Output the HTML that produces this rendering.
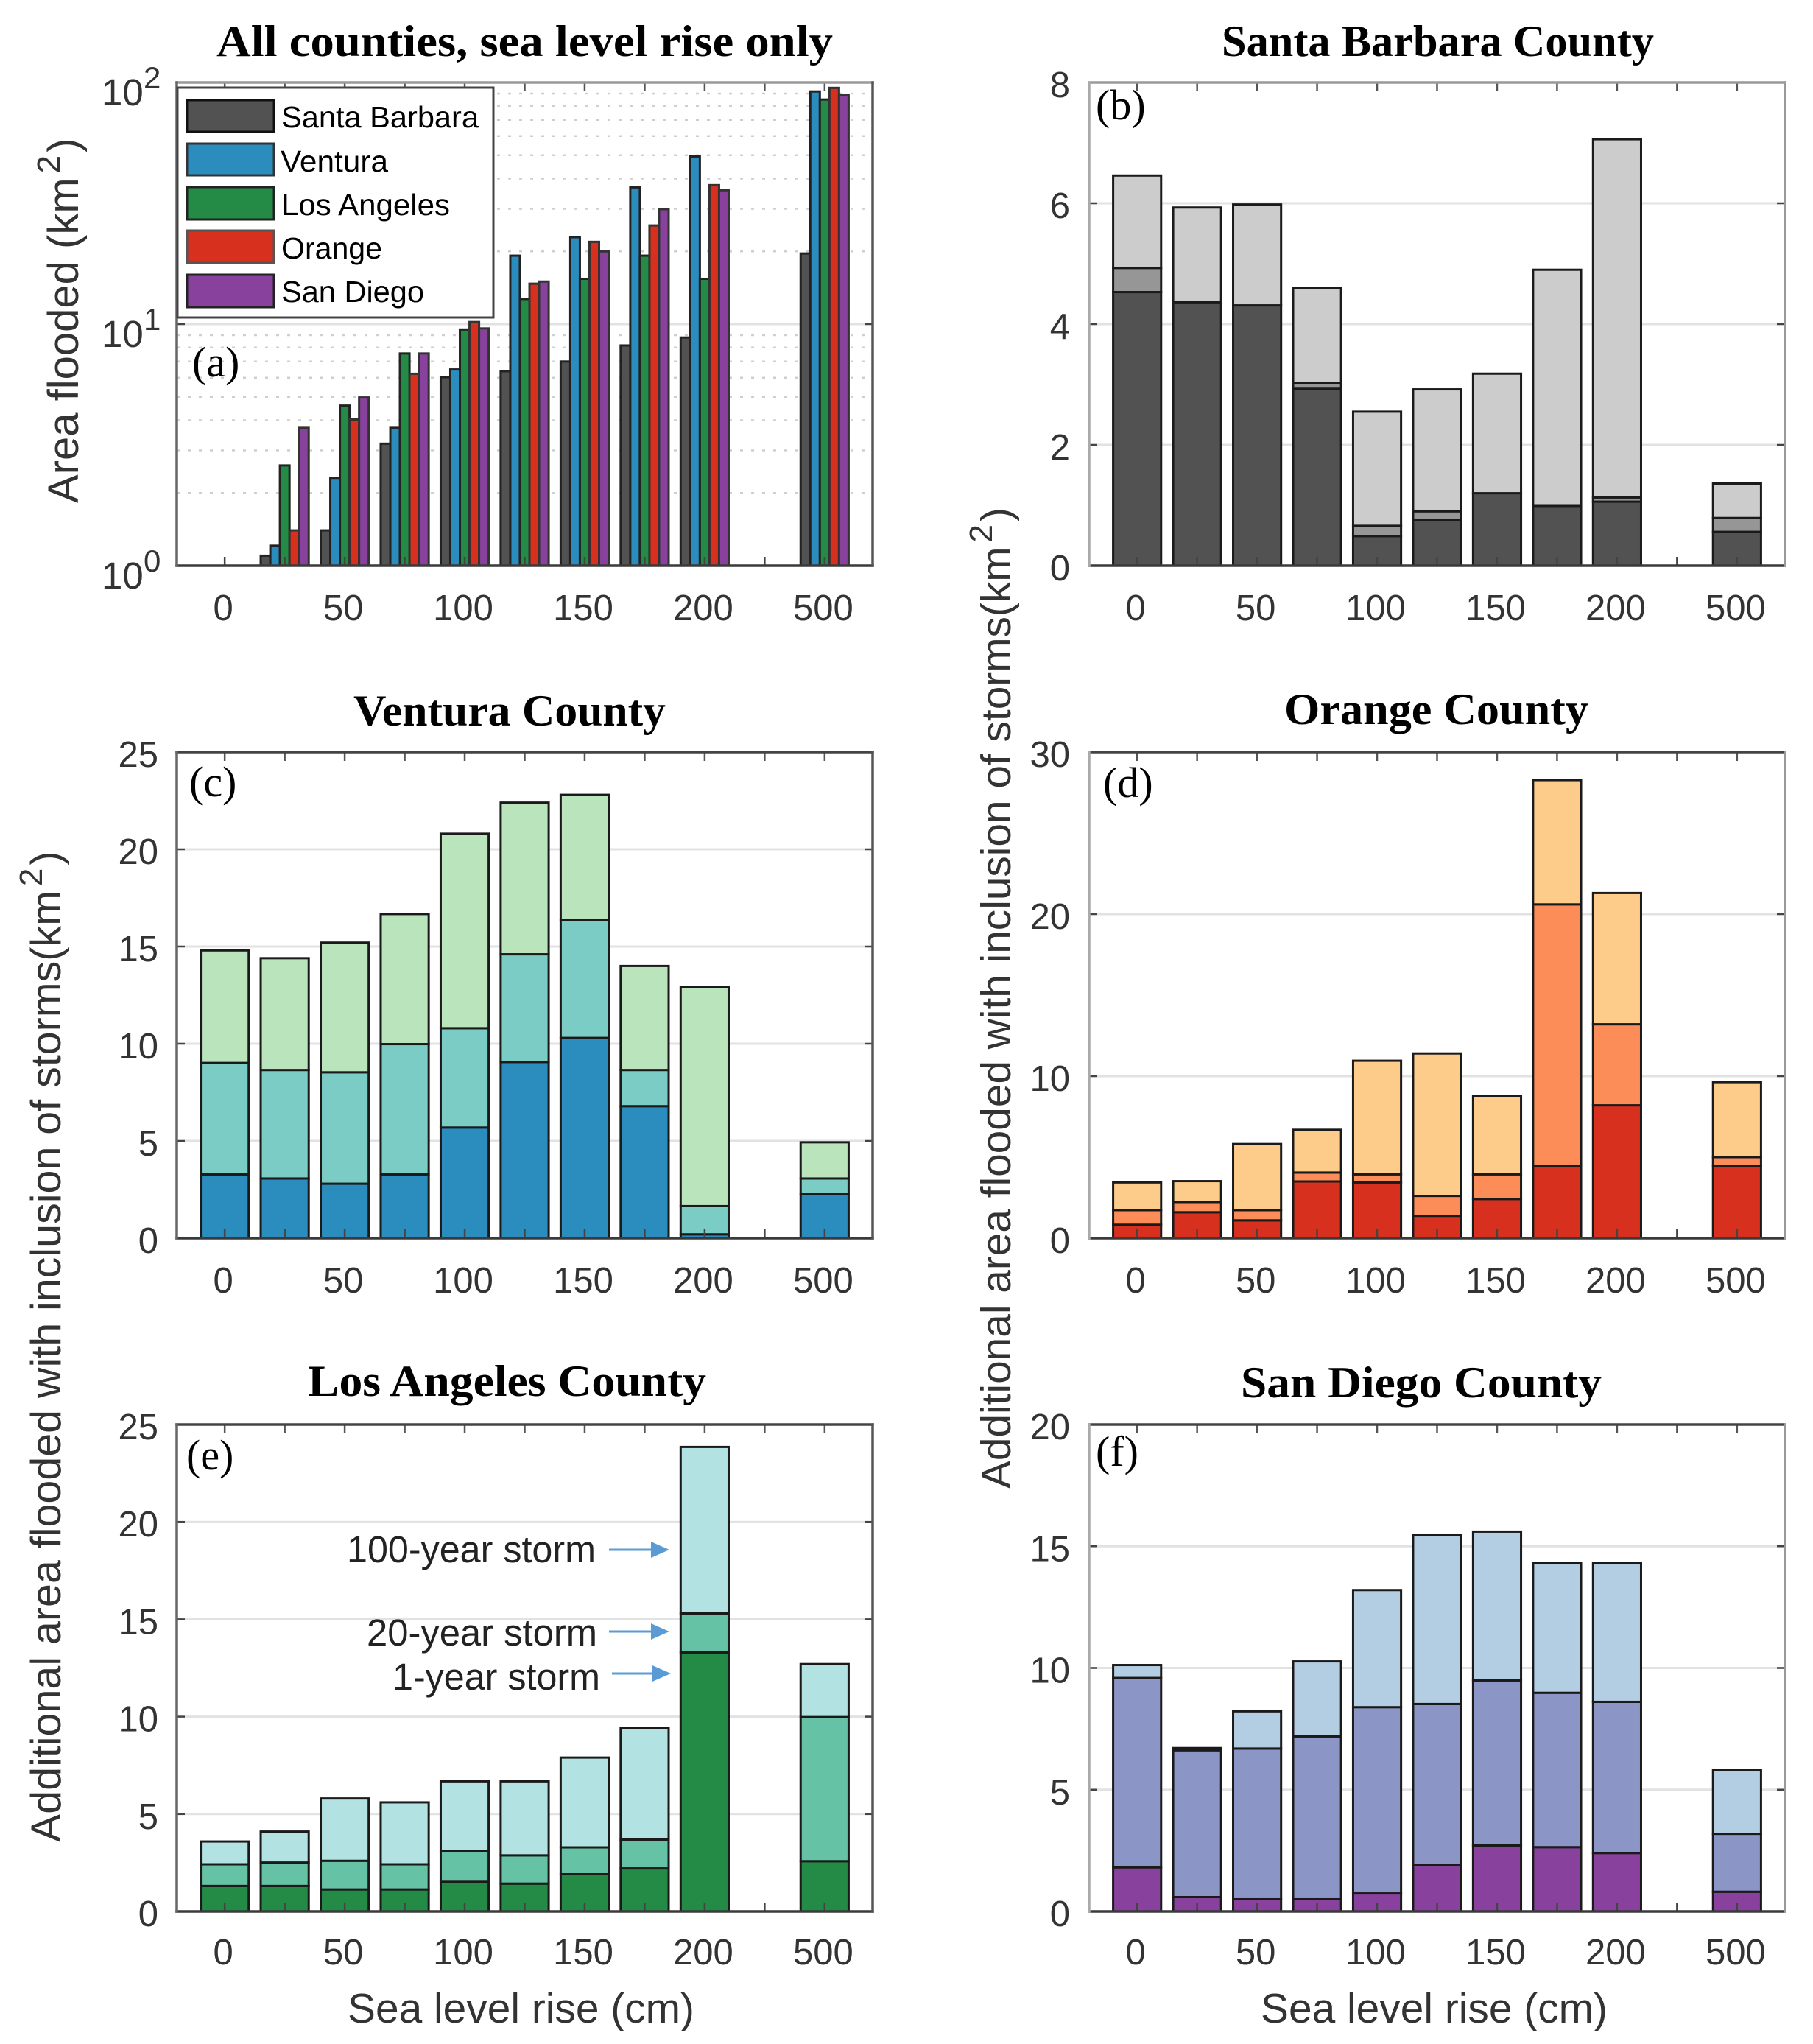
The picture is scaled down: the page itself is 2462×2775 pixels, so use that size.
<!DOCTYPE html>
<html lang="en">
<head>
<meta charset="utf-8">
<title>Area flooded by county and sea level rise</title>
<style>
html,body{margin:0;padding:0;background:#fff;}
svg{display:block;}
.sans{font-family:"Liberation Sans",sans-serif;}
.serif{font-family:"Liberation Serif",serif;}
</style>
</head>
<body>
<svg id="figure" xmlns="http://www.w3.org/2000/svg" width="2462" height="2775" viewBox="0 0 2462 2775">
  <rect x="0" y="0" width="2462" height="2775" fill="#ffffff"/>
  <g id="panels"></g>

  <g class="serif" font-weight="bold" font-size="60" fill="#000">
    <text x="294" y="76" textLength="837" lengthAdjust="spacingAndGlyphs">All counties, sea level rise only</text>
    <text x="1659" y="76" textLength="587" lengthAdjust="spacingAndGlyphs">Santa Barbara County</text>
    <text x="480" y="985" textLength="424" lengthAdjust="spacingAndGlyphs">Ventura County</text>
    <text x="1744" y="983" textLength="413" lengthAdjust="spacingAndGlyphs">Orange County</text>
    <text x="418" y="1895" textLength="541" lengthAdjust="spacingAndGlyphs">Los Angeles County</text>
    <text x="1685" y="1897" textLength="490" lengthAdjust="spacingAndGlyphs">San Diego County</text>
  </g>

  <g class="serif" font-size="58" fill="#000">
    <text x="261" y="511">(a)</text>
    <text x="1488" y="162">(b)</text>
    <text x="257" y="1081">(c)</text>
    <text x="1498" y="1082">(d)</text>
    <text x="253" y="1995">(e)</text>
    <text x="1488" y="1990">(f)</text>
  </g>

  <g class="sans" fill="#333">
    <text font-size="58" transform="translate(106,683) rotate(-90)">Area flooded (km<tspan font-size="44" dy="-25" dx="6">2</tspan><tspan dy="25" dx="4">)</tspan></text>
    <text font-size="57.4" transform="translate(82,2501) rotate(-90)">Additional area flooded with inclusion of storms(km<tspan font-size="44" dy="-25" dx="6">2</tspan><tspan dy="25" dx="4">)</tspan></text>
    <text font-size="56.8" transform="translate(1372,2021) rotate(-90)">Additional area flooded with inclusion of storms(km<tspan font-size="44" dy="-25" dx="6">2</tspan><tspan dy="25" dx="4">)</tspan></text>
    <text font-size="57" x="472" y="2746" textLength="471" lengthAdjust="spacingAndGlyphs">Sea level rise (cm)</text>
    <text font-size="57" x="1712" y="2746" textLength="471" lengthAdjust="spacingAndGlyphs">Sea level rise (cm)</text>
  </g>

  <g class="sans" font-size="51" fill="#222">
    <text x="471" y="2121" textLength="338" lengthAdjust="spacingAndGlyphs">100-year storm</text>
    <text x="498" y="2234" textLength="313" lengthAdjust="spacingAndGlyphs">20-year storm</text>
    <text x="533" y="2294" textLength="282" lengthAdjust="spacingAndGlyphs">1-year storm</text>
    <g>
      <line x1="827" y1="2104" x2="886" y2="2104" stroke="#5b9bd5" stroke-width="3"/>
      <polygon points="884,2093 909,2104 884,2115" fill="#5b9bd5"/>
    </g>
    <g>
      <line x1="827" y1="2215" x2="886" y2="2215" stroke="#5b9bd5" stroke-width="3"/>
      <polygon points="884,2204 909,2215 884,2226" fill="#5b9bd5"/>
    </g>
    <g>
      <line x1="831" y1="2272" x2="888" y2="2272" stroke="#5b9bd5" stroke-width="3"/>
      <polygon points="886,2261 911,2272 886,2283" fill="#5b9bd5"/>
    </g>
  </g>

  <g>
    <rect x="241" y="119" width="429" height="312" fill="#fff" stroke="#444" stroke-width="3"/>
    <g>
      <rect x="254" y="136" width="118" height="43" fill="#525252" stroke="#111" stroke-width="3"/>
      <text class="sans" font-size="41" x="382" y="173" textLength="268" lengthAdjust="spacingAndGlyphs">Santa Barbara</text>
    </g>
    <g>
      <rect x="254" y="195" width="118" height="43" fill="#2b8cbe" stroke="#333" stroke-width="3"/>
      <text class="sans" font-size="41" x="381" y="233" textLength="146" lengthAdjust="spacingAndGlyphs">Ventura</text>
    </g>
    <g>
      <rect x="254" y="254" width="118" height="44" fill="#238b45" stroke="#222" stroke-width="3"/>
      <text class="sans" font-size="41" x="382" y="292" textLength="229" lengthAdjust="spacingAndGlyphs">Los Angeles</text>
    </g>
    <g>
      <rect x="254" y="313" width="118" height="44" fill="#d7301f" stroke="#555" stroke-width="3"/>
      <text class="sans" font-size="41" x="382" y="351" textLength="137" lengthAdjust="spacingAndGlyphs">Orange</text>
    </g>
    <g>
      <rect x="254" y="373" width="118" height="44" fill="#88419d" stroke="#222" stroke-width="3"/>
      <text class="sans" font-size="41" x="382" y="410" textLength="194" lengthAdjust="spacingAndGlyphs">San Diego</text>
    </g>
  </g>
</svg>

<script>
// ---- shared categories (sea level rise, cm) ----
const categories = ["0","25","50","75","100","125","150","175","200","500"];
const categorySlots = [1,2,3,4,5,6,7,8,9,11];
const xTickLabels = ["0","","50","","100","","150","","200","","500"];

// ---- panel (a): sea-level-rise only, km2 ----
const allSantaBarbara = [0.5,1.10,1.40,3.2,6.03,6.38,7.0,8.16,8.8,19.6];
const allVentura      = [0.6,1.21,2.31,3.72,6.49,19.2,22.9,36.8,49.4,91.8];
const allLosAngeles   = [0.9,2.6,4.6,7.56,9.5,12.7,15.4,19.2,15.4,85];
const allOrange       = [0.7,1.40,4.03,6.23,10.2,14.7,21.9,25.6,37.6,95];
const allSanDiego     = [0.8,3.72,4.97,7.56,9.6,15,20.0,29.9,35.8,88.5];
const logTickExponents = [0,1,2];
const logMinorMultipliers = [2,3,4,5,6,7,8,9];

// ---- panel (b): Santa Barbara, additional area by storm ----
const sbStorm1   = [4.53,4.35,4.31,2.93,0.49,0.76,1.2,0.99,1.06,0.56];
const sbStorm20  = [0.40,0.02,0,0.09,0.17,0.14,0,0.01,0.07,0.23];
const sbStorm100 = [1.53,1.56,1.67,1.58,1.89,2.02,1.98,3.9,5.93,0.57];
const sbTicks = [0,2,4,6,8];

// ---- panel (c): Ventura ----
const vcStorm1   = [3.28,3.07,2.8,3.28,5.69,9.06,10.3,6.79,0.2,2.29];
const vcStorm20  = [5.73,5.58,5.73,6.7,5.11,5.54,6.05,1.86,1.45,0.78];
const vcStorm100 = [5.79,5.75,6.67,6.69,10.0,7.8,6.45,5.35,11.25,1.86];
const vcTicks = [0,5,10,15,20,25];

// ---- panel (d): Orange ----
const orStorm1   = [0.83,1.6,1.1,3.5,3.44,1.38,2.42,4.46,8.2,4.46];
const orStorm20  = [0.9,0.63,0.63,0.55,0.5,1.23,1.52,16.14,5.0,0.54];
const orStorm100 = [1.71,1.29,4.08,2.64,7.01,8.79,4.84,7.67,8.1,4.63];
const orTicks = [0,10,20,30];

// ---- panel (e): Los Angeles ----
const laStorm1   = [1.31,1.31,1.13,1.13,1.52,1.43,1.91,2.21,13.3,2.58];
const laStorm20  = [1.11,1.2,1.47,1.29,1.57,1.45,1.38,1.48,2.0,7.4];
const laStorm100 = [1.17,1.59,3.2,3.18,3.59,3.8,4.61,5.71,8.55,2.72];
const laTicks = [0,5,10,15,20,25];

// ---- panel (f): San Diego ----
const sdStorm1   = [1.81,0.59,0.5,0.5,0.74,1.9,2.71,2.64,2.4,0.81];
const sdStorm20  = [7.78,6.03,6.19,6.69,7.65,6.62,6.78,6.34,6.21,2.38];
const sdStorm100 = [0.53,0.09,1.53,3.08,4.81,6.95,6.11,5.34,5.71,2.62];
const sdTicks = [0,5,10,15,20];

const NS = "http://www.w3.org/2000/svg";
const root = document.getElementById("panels");

function make(parent, tag, attrs, txt) {
  const el = document.createElementNS(NS, tag);
  for (const k in attrs) el.setAttribute(k, attrs[k]);
  if (txt !== undefined) el.textContent = txt;
  parent.appendChild(el);
  return el;
}

const SLOT_MIN = 0.2, SLOT_MAX = 11.8;

function makeXScale(box) {
  return function (slot) {
    return box.left + (slot - SLOT_MIN) / (SLOT_MAX - SLOT_MIN) * (box.right - box.left);
  };
}

function frame(g, box, style, x) {
  // inward x ticks, top and bottom
  for (let s = 1; s <= 11; s++) {
    const px = x(s);
    const tb = make(g, "line", {x1: px, x2: px, y1: box.bottom, y2: box.bottom - 12, stroke: "#444", "stroke-width": 2.5});
    
    
    const tt = make(g, "line", {x1: px, x2: px, y1: box.top, y2: box.top + 12, stroke: "#555", "stroke-width": 2.5});
    
    
    const label = xTickLabels[s - 1];
    if (label !== "") {
      const t = make(g, "text", {x: px - 2, y: box.bottom + box.xLabelGap, "text-anchor": "middle", "font-size": 49, fill: "#333", class: "sans"}, label);
      
      
    }
  }
  const sides = [
    [box.left, box.top, box.right, box.top, style.topColor, "spine-top"],
    [box.left, box.bottom, box.right, box.bottom, "#3a3a3a", "spine-bottom"],
    [box.left, box.top, box.left, box.bottom, style.leftColor, "spine-left"],
    [box.right, box.top, box.right, box.bottom, style.rightColor, "spine-right"]
  ];
  sides.forEach(function (d) {
    const sp = make(g, "line", {x1: d[0], y1: d[1], x2: d[2], y2: d[3], stroke: d[4], "stroke-width": 3.5, "stroke-linecap": "square"});
    
    
  });
}

function stackedPanel(name, box, ticks, layers, colors, edge, style) {
  const g = make(root, "g", {});
  
  
  const x = makeXScale(box);
  const yMax = ticks[ticks.length - 1];
  const y = function (v) { return box.bottom - v / yMax * (box.bottom - box.top); };
  const unit = (box.right - box.left) / (SLOT_MAX - SLOT_MIN);

  ticks.forEach(function (t) {
    if (t !== 0 && t !== yMax) {
      const gl = make(g, "line", {x1: box.left, x2: box.right, y1: y(t), y2: y(t), stroke: "#e2e2e2", "stroke-width": 3});
      
      
    }
  });

  categories.forEach(function (cat, i) {
    let base = 0;
    const barW = unit * 0.8;
    const left = x(categorySlots[i]) - barW / 2;
    layers.forEach(function (series, j) {
      const top = base + series[i];
      const r = make(g, "rect", {x: left, y: y(top), width: barW, height: Math.max(0, y(base) - y(top)), fill: colors[j], stroke: edge, "stroke-width": 3});
      
      
      base = top;
    });
  });

  ticks.forEach(function (t) {
    if (t !== 0 && t !== yMax) {
      const a = make(g, "line", {x1: box.left, x2: box.left + 11, y1: y(t), y2: y(t), stroke: "#444", "stroke-width": 2.5});
      
      
      const b = make(g, "line", {x1: box.right, x2: box.right - 11, y1: y(t), y2: y(t), stroke: "#444", "stroke-width": 2.5});
      
      
    }
    const lab = make(g, "text", {x: box.labelRight, y: y(t) + 20, "text-anchor": "end", "font-size": 49, fill: "#333", class: "sans"}, String(t));
    
    
  });
  frame(g, box, style, x);
}

function logPanel(name, box, seriesList, colors, edges, style) {
  const g = make(root, "g", {});
  
  
  const x = makeXScale(box);
  const maxExp = logTickExponents[logTickExponents.length - 1];
  const y = function (v) { return box.bottom - Math.log10(v) / maxExp * (box.bottom - box.top); };
  const unit = (box.right - box.left) / (SLOT_MAX - SLOT_MIN);

  logTickExponents.slice(0, -1).forEach(function (e) {
    logMinorMultipliers.forEach(function (m) {
      const v = m * Math.pow(10, e);
      const d = make(g, "line", {x1: box.left, x2: box.right, y1: y(v), y2: y(v), stroke: "#cfcfcf", "stroke-width": 2.5, "stroke-dasharray": "4 11"});
      
      
    });
  });
  const major = make(g, "line", {x1: box.left, x2: box.right, y1: y(10), y2: y(10), stroke: "#e2e2e2", "stroke-width": 3});
  
  

  categories.forEach(function (cat, i) {
    const bw = unit * 0.16;
    const groupLeft = x(categorySlots[i]) - bw * seriesList.length / 2;
    seriesList.forEach(function (series, j) {
      const v = series[i];
      if (v <= 1) return;
      const r = make(g, "rect", {x: groupLeft + j * bw, y: y(v), width: bw, height: box.bottom - y(v), fill: colors[j], stroke: edges[j], "stroke-width": 3});
      
      
    });
  });

  logTickExponents.forEach(function (e) {
    const py = y(Math.pow(10, e));
    const t = make(g, "text", {x: 138, y: py + 31, "font-size": 51, fill: "#333", class: "sans"}, "10");
    
    
    const s = make(g, "text", {x: 195, y: py + 8, "font-size": 42, fill: "#333", class: "sans"}, String(e));
    
    
    if (e === 1) {
      const a = make(g, "line", {x1: box.left, x2: box.left + 11, y1: py, y2: py, stroke: "#444", "stroke-width": 2.5});
      
      
      const b = make(g, "line", {x1: box.right, x2: box.right - 11, y1: py, y2: py, stroke: "#444", "stroke-width": 2.5});
      
      
    }
  });
  frame(g, box, style, x);
}

logPanel("panel-a-all-counties",
  {left: 240, right: 1185, top: 112, bottom: 768, xLabelGap: 74, labelRight: 215},
  [allSantaBarbara, allVentura, allLosAngeles, allOrange, allSanDiego],
  ["#525252", "#2b8cbe", "#238b45", "#d7301f", "#88419d"],
  ["#222", "#222", "#222", "#333", "#333"],
  {topColor: "#999", leftColor: "#666", rightColor: "#555"});

stackedPanel("panel-b-santa-barbara",
  {left: 1479, right: 2424, top: 112, bottom: 768, xLabelGap: 74, labelRight: 1453},
  sbTicks, [sbStorm1, sbStorm20, sbStorm100], ["#525252", "#969696", "#cccccc"], "#1a1a1a",
  {topColor: "#999", leftColor: "#aaa", rightColor: "#999"});

stackedPanel("panel-c-ventura",
  {left: 240, right: 1185, top: 1021, bottom: 1681, xLabelGap: 74, labelRight: 215},
  vcTicks, [vcStorm1, vcStorm20, vcStorm100], ["#2b8cbe", "#7bccc4", "#bae4bc"], "#1a1a1a",
  {topColor: "#444", leftColor: "#666", rightColor: "#555"});

stackedPanel("panel-d-orange",
  {left: 1479, right: 2424, top: 1021, bottom: 1681, xLabelGap: 74, labelRight: 1453},
  orTicks, [orStorm1, orStorm20, orStorm100], ["#d7301f", "#fc8d59", "#fdcc8a"], "#1a1a1a",
  {topColor: "#444", leftColor: "#aaa", rightColor: "#999"});

stackedPanel("panel-e-los-angeles",
  {left: 240, right: 1185, top: 1934, bottom: 2595, xLabelGap: 72, labelRight: 215},
  laTicks, [laStorm1, laStorm20, laStorm100], ["#238b45", "#66c2a4", "#b2e2e2"], "#1a1a1a",
  {topColor: "#444", leftColor: "#666", rightColor: "#555"});

stackedPanel("panel-f-san-diego",
  {left: 1479, right: 2424, top: 1934, bottom: 2595, xLabelGap: 72, labelRight: 1453},
  sdTicks, [sdStorm1, sdStorm20, sdStorm100], ["#88419d", "#8c96c6", "#b3cde3"], "#1a1a1a",
  {topColor: "#444", leftColor: "#aaa", rightColor: "#999"});
</script>
</body>
</html>
